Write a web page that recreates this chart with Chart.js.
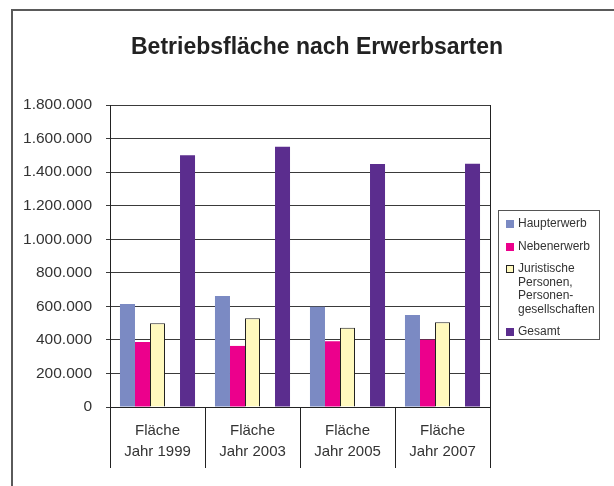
<!DOCTYPE html>
<html>
<head>
<meta charset="utf-8">
<script src="https://cdn.jsdelivr.net/npm/chart.js@4"></script>
<style>
  body { margin: 0; background: #fff; font-family: 'Liberation Sans', Arial, sans-serif; }
  #wrap { position: relative; width: 614px; height: 486px; overflow: hidden; }
  #frame { position: absolute; left: 11px; top: 9px; width: 700px; height: 600px;
           border-left: 2px solid #5a5a5a; border-top: 2px solid #5a5a5a; }
  #title { position: absolute; left: 0; width: 634px; top: 33px; text-align: center;
           font-weight: bold; font-size: 23px; color: #222; }
  #legend { position: absolute; left: 498px; top: 210px; width: 102px; height: 130px;
            border: 1px solid #555; box-sizing: border-box; padding-top: 6px;
            font-size: 12px; color: #333; line-height: 13.5px; }
  .item { position: relative; padding-left: 19px; margin-bottom: 9px; white-space: pre-line; }
  .sw { position: absolute; left: 7px; top: 3px; width: 8px; height: 8px; box-sizing: border-box; }
  canvas { position: absolute; left: 0; top: 0; }
</style>
</head>
<body>
<div id="wrap">
  <div id="frame"></div>
  <canvas id="chart" width="614" height="486"></canvas>
  <div id="title">Betriebsfläche nach Erwerbsarten</div>
  <div id="legend"></div>
</div>
<script>
// Kategorien und Werte (Fläche)
var kategorien = [['Fläche', 'Jahr 1999'], ['Fläche', 'Jahr 2003'], ['Fläche', 'Jahr 2005'], ['Fläche', 'Jahr 2007']];
var haupterwerb = [614000, 662000, 598000, 548000];
var nebenerwerb = [387000, 364000, 392000, 401000];
var juristisch = [499000, 529000, 473000, 505000];
var gesamt = [1500000, 1551000, 1449000, 1450000];
var leer = [null, null, null, null];
var yTicks = [0, 200000, 400000, 600000, 800000, 1000000, 1200000, 1400000, 1600000, 1800000];

function formatZahl(v) {
    return String(v).replace(/\B(?=(\d{3})+(?!\d))/g, '.');
}

var serien = [
    { label: 'Haupterwerb', data: haupterwerb, backgroundColor: '#7b8ac3', borderWidth: 0 },
    { label: 'Nebenerwerb', data: nebenerwerb, backgroundColor: '#ec008c', borderWidth: 0 },
    { label: 'Juristische\nPersonen,\nPersonen-\ngesellschaften', data: juristisch, backgroundColor: '#fff9be', borderColor: '#222', borderWidth: 1 },
    { label: '', data: leer, backgroundColor: 'transparent', borderWidth: 0 },
    { label: 'Gesamt', data: gesamt, backgroundColor: '#5b2d8e', borderWidth: 0 }
];

// Rahmen rechts um die Zeichenfläche
var rahmen = {
    id: 'rahmen',
    afterDraw: function (chart) {
        var a = chart.chartArea, c = chart.ctx;
        c.save();
        c.strokeStyle = '#222';
        c.lineWidth = 1;
        c.beginPath();
        c.moveTo(Math.round(a.right) + 0.5, a.top);
        c.lineTo(Math.round(a.right) + 0.5, a.bottom);
        c.stroke();
        c.restore();
    }
};

Chart.defaults.font.family = "'Liberation Sans', Arial, sans-serif";
Chart.defaults.color = '#333';

var ctx = document.getElementById('chart').getContext('2d');
var chart = new Chart(ctx, {
    type: 'bar',
    data: { labels: kategorien, datasets: serien },
    options: {
        responsive: false,
        animation: false,
        layout: { padding: { left: 0, right: 124, top: 105, bottom: 0 } },
        datasets: { bar: { categoryPercentage: 0.79, barPercentage: 1.0 } },
        plugins: { legend: { display: false }, tooltip: { enabled: false } },
        scales: {
            x: {
                grid: { offset: true, drawOnChartArea: false, color: '#222', tickLength: 61 },
                border: { color: '#222' },
                ticks: { font: { size: 15, lineHeight: 1.4 }, padding: -48, color: '#333' },
                afterFit: function (s) { s.height = 79; }
            },
            y: {
                min: 0, max: 1800000,
                afterBuildTicks: function (s) { s.ticks = yTicks.map(function (v) { return { value: v }; }); },
                grid: { color: '#3a3a3a', tickLength: 4 },
                border: { color: '#222' },
                ticks: { font: { size: 15.5 }, padding: 14, color: '#333',
                         callback: function (v) { return formatZahl(v); } },
                afterFit: function (s) { s.width = 110; }
            }
        }
    },
    plugins: [rahmen]
});

// Legende aus den Serien
var leg = document.getElementById('legend');
serien.forEach(function (s) {
    if (!s.label) return;
    var d = document.createElement('div');
    d.className = 'item';
    var sw = document.createElement('span');
    sw.className = 'sw';
    sw.style.background = s.backgroundColor;
    if (s.borderWidth) sw.style.border = '1px solid ' + s.borderColor;
    d.appendChild(sw);
    d.appendChild(document.createTextNode(s.label));
    leg.appendChild(d);
});
</script>
</body>
</html>
